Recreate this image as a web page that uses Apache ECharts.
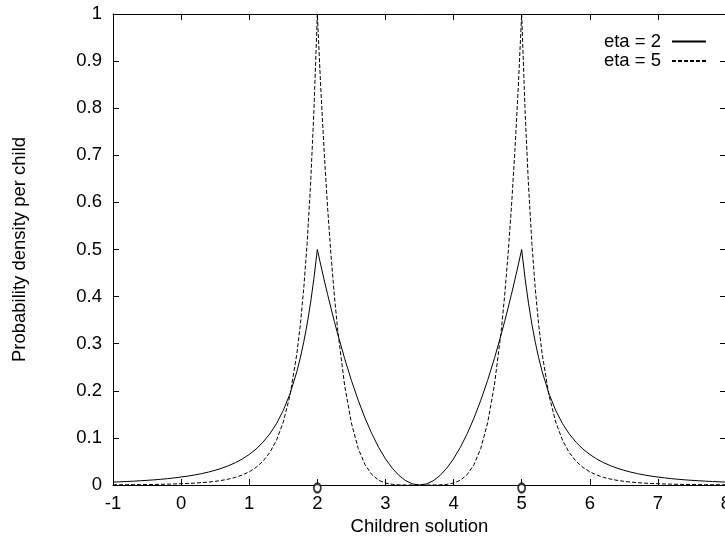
<!DOCTYPE html>
<html><head><meta charset="utf-8">
<script src="https://cdn.jsdelivr.net/npm/echarts@6/dist/echarts.min.js"></script>
<style>html,body{margin:0;padding:0;background:#fff}#c{width:725px;height:536px}</style>
</head><body><div id="c"></div>
<script>
// Children solution (x) sample positions
const xs = [-1.0,-0.9,-0.8,-0.7,-0.6,-0.5,-0.4,-0.3,-0.2,-0.1,0.0,0.1,0.2,0.3,0.4,0.5,0.6,0.7,0.8,0.9,1.0,1.1,1.2,1.3,1.4,1.5,1.6,1.7,1.75,1.8,1.85,1.9,1.95,2.0,2.05,2.1,2.15,2.2,2.25,2.3,2.4,2.5,2.6,2.7,2.8,2.9,3.0,3.1,3.2,3.3,3.4,3.5,
  3.6,3.7,3.8,3.9,4.0,4.1,4.2,4.3,4.4,4.5,4.6,4.7,4.75,4.8,4.85,4.9,4.95,5.0,5.05,5.1,5.15,5.2,5.25,5.3,5.4,5.5,5.6,5.7,5.8,5.9,6.0,6.1,6.2,6.3,6.4,6.5,6.6,6.7,6.8,6.9,7.0,7.1,7.2,7.3,7.4,7.5,7.6,7.7,7.8,7.9,8.0];
// Probability density per child, eta = 2 (solid)
const eta2 = [0.0062,0.0068,0.0074,0.0081,0.0090,0.0099,0.0109,0.0121,0.0135,0.0151,0.0169,0.0189,0.0213,0.0241,0.0274,0.0313,0.0358,0.0412,0.0476,0.0554,0.0648,0.0763,0.0905,0.1081,0.1302,0.1582,0.1942,0.2411,0.2699,0.3031,0.3415,0.3862,0.4386,0.5,0.4672,0.4356,0.4050,0.3756,0.3472,0.3200,0.2689,0.2222,0.1800,0.1422,0.1089,0.0800,0.0556,0.0356,0.0200,0.0089,0.0022,0.0,
  0.0022,0.0089,0.0200,0.0356,0.0556,0.0800,0.1089,0.1422,0.1800,0.2222,0.2689,0.3200,0.3472,0.3756,0.4050,0.4356,0.4672,0.5,0.4386,0.3862,0.3415,0.3031,0.2699,0.2411,0.1942,0.1582,0.1302,0.1081,0.0905,0.0763,0.0648,0.0554,0.0476,0.0412,0.0358,0.0313,0.0274,0.0241,0.0213,0.0189,0.0169,0.0151,0.0135,0.0121,0.0109,0.0099,0.0090,0.0081,0.0074,0.0068,0.0062];
// Probability density per child, eta = 5 (dashed)
const eta5 = [0.0005,0.0005,0.0006,0.0007,0.0009,0.0010,0.0012,0.0015,0.0018,0.0022,0.0027,0.0033,0.0040,0.0050,0.0062,0.0078,0.0099,0.0127,0.0163,0.0213,0.0280,0.0373,0.0502,0.0685,0.0949,0.1335,0.1911,0.2791,0.3399,0.4164,0.5132,0.6364,0.7949,1.0,0.8441,0.7082,0.5905,0.4890,0.4019,0.3277,0.2121,0.1317,0.0778,0.0432,0.0221,0.0102,0.0041,0.0014,0.0003,0.0,0.0,0.0,
  0.0,0.0,0.0003,0.0014,0.0041,0.0102,0.0221,0.0432,0.0778,0.1317,0.2121,0.3277,0.4019,0.4890,0.5905,0.7082,0.8441,1.0,0.7949,0.6364,0.5132,0.4164,0.3399,0.2791,0.1911,0.1335,0.0949,0.0685,0.0502,0.0373,0.0280,0.0213,0.0163,0.0127,0.0099,0.0078,0.0062,0.0050,0.0040,0.0033,0.0027,0.0022,0.0018,0.0015,0.0012,0.0010,0.0009,0.0007,0.0006,0.0005,0.0005];
// Parent solutions (circles on the x axis)
const parents = [2, 5];
const seriesNames = ['eta = 2', 'eta = 5'];
const xAxisRange = {min: -1, max: 8, interval: 1};
const yAxisRange = {min: 0, max: 1, interval: 0.1};

const FONT = 'Liberation Sans, Arial, Helvetica, sans-serif';
const FS = 18.5;
const chart = echarts.init(document.getElementById('c'), null, {renderer: 'canvas'});
const axisCommon = {
  axisLine: {show: true, onZero: false, lineStyle: {color: '#000', width: 1}},
  axisTick: {show: true, inside: true, length: 6, lineStyle: {color: '#000'}},
  splitLine: {show: false}
};
chart.setOption({
  animation: false,
  backgroundColor: '#fff',
  grid: {left: 113, right: -1, top: 14, bottom: 51, containLabel: false, outerBoundsMode: 'none'},
  legend: {
    data: seriesNames, orient: 'vertical', right: 13, top: 27, align: 'right',
    itemWidth: 34, itemHeight: 18, itemGap: 0.5,
    itemStyle: {opacity: 0},
    textStyle: {fontSize: FS, color: '#000', fontFamily: FONT, padding: [0, 6, 0, 0]}
  },
  xAxis: [
    Object.assign({type: 'value', position: 'bottom', min: xAxisRange.min, max: xAxisRange.max, interval: xAxisRange.interval,
      name: 'Children solution', nameLocation: 'middle', nameGap: 27,
      nameTextStyle: {fontSize: FS, color: '#000', fontFamily: FONT},
      axisLabel: {fontSize: FS, color: '#000', fontFamily: FONT, margin: 9}}, axisCommon),
    Object.assign({type: 'value', position: 'top', min: xAxisRange.min, max: xAxisRange.max, interval: xAxisRange.interval,
      axisLabel: {show: false}}, axisCommon)
  ],
  yAxis: [
    Object.assign({type: 'value', position: 'left', min: yAxisRange.min, max: yAxisRange.max, interval: yAxisRange.interval,
      name: 'Probability density per child', nameLocation: 'middle', nameGap: 84,
      nameTextStyle: {fontSize: FS, color: '#000', fontFamily: FONT},
      axisLabel: {fontSize: FS, color: '#000', fontFamily: FONT, margin: 11}}, axisCommon),
    Object.assign({type: 'value', position: 'right', min: yAxisRange.min, max: yAxisRange.max, interval: yAxisRange.interval,
      axisLabel: {show: false}}, axisCommon)
  ],
  series: [
    {name: seriesNames[0], type: 'line', xAxisIndex: 0, yAxisIndex: 0, symbol: 'none', smooth: false,
      lineStyle: {color: '#000', width: 1, type: 'solid'}, itemStyle: {color: '#000'},
      data: xs.map((x, i) => [x, eta2[i]])},
    {name: seriesNames[1], type: 'line', xAxisIndex: 0, yAxisIndex: 0, symbol: 'none', smooth: false,
      lineStyle: {color: '#000', width: 1, type: [4, 2]}, itemStyle: {color: '#000'},
      data: xs.map((x, i) => [x, eta5[i]])},
    {name: 'parents', type: 'scatter', xAxisIndex: 0, yAxisIndex: 0, symbol: 'emptyCircle', symbolSize: [7, 9], symbolOffset: [0, 3], clip: false,
      itemStyle: {color: '#000', borderColor: '#000', borderWidth: 1.2}, z: 5,
      data: parents.map(p => [p, 0])}
  ]
});
</script>
</body></html>
